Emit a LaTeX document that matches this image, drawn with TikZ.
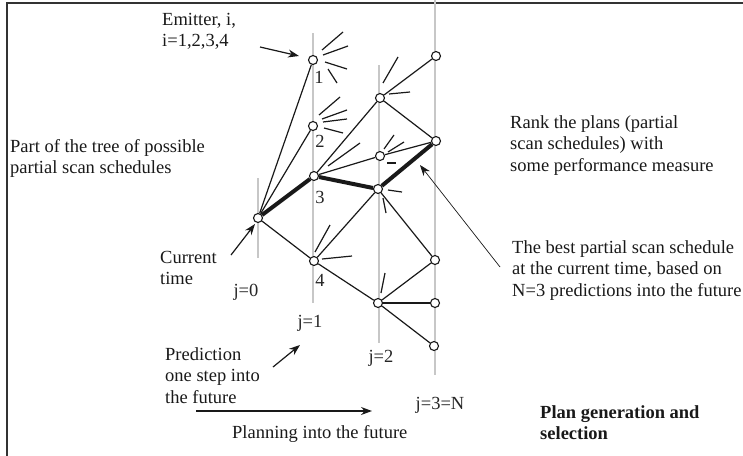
\documentclass[tikz,border=0pt]{standalone}
\usepackage{fontspec}
\setmainfont{Liberation Serif}
\usetikzlibrary{arrows.meta}
\begin{document}
\begin{tikzpicture}[x=1pt,y=-1pt,
  dot/.style={circle,draw=black!90,line width=1.1pt,fill=white,inner sep=0pt,minimum size=9pt},
  conn/.style={line width=1.2pt,black!90},
  best/.style={line width=4pt,black!90},
  stub/.style={line width=1.2pt,black!90},
  vline/.style={draw=black!22,line width=1.5pt},
  lbl/.style={font=\fontsize{18.5}{21.5}\selectfont,align=left,anchor=base west,inner sep=0pt,text=black!90},
  num/.style={font=\fontsize{18.5}{21.5}\selectfont,inner sep=0pt,text=black!85},
  arr/.style={line width=1.2pt,black!90,-{Stealth[length=11pt,width=8pt]}},
  frame/.style={line width=2pt,black!80},
]
\useasboundingbox (0,0) rectangle (743,455);
\draw[frame] (7,460) -- (7,3) -- (750,3);

% time lines
\draw[vline] (258,178) -- (258,258);
\draw[vline] (313,33) -- (313,303);
\draw[vline] (379,65) -- (379,343);
\draw[vline] (435,0) -- (435,375);

% nodes
\node[dot] (r) at (258,218) {};
\node[dot] (a1) at (313,60) {};
\node[dot] (a2) at (313,126) {};
\node[dot] (a3) at (314,176) {};
\node[dot] (a4) at (314,261) {};
\node[dot] (b1) at (380,98) {};
\node[dot] (b2) at (380,156) {};
\node[dot] (b3) at (378,189) {};
\node[dot] (b4) at (378,303) {};
\node[dot] (c1) at (436,56) {};
\node[dot] (c2) at (436,141) {};
\node[dot] (c3) at (435,260) {};
\node[dot] (c4) at (435,303) {};
\node[dot] (c5) at (434,346) {};

% edges
\draw[conn] (r) -- (a1);
\draw[conn] (r) -- (a2);
\draw[best] (r) -- (a3);
\draw[conn] (r) -- (a4);
\draw[conn] (a3) -- (b1);
\draw[conn] (a3) -- (b2);
\draw[best] (a3) -- (b3);
\draw[conn] (a4) -- (b3);
\draw[conn] (a4) -- (b4);
\draw[conn] (b1) -- (c1);
\draw[conn] (b1) -- (c2);
\draw[conn] (b2) -- (c2);
\draw[best] (b3) -- (c2);
\draw[conn] (b3) -- (c3);
\draw[conn] (b4) -- (c3);
\draw[conn] (b4) -- (c4);
\draw[conn] (b4) -- (c5);

% stubs (unexplored branches)
\draw[stub] ([shift={(9,-10)}]a1.center) -- ([shift={(30,-28)}]a1.center);
\draw[stub] ([shift={(10,-5)}]a1.center) -- ([shift={(35,-14)}]a1.center);
\draw[stub] ([shift={(12,2)}]a1.center) -- ([shift={(34,9)}]a1.center);
\draw[stub] ([shift={(15,9)}]a1.center) -- ([shift={(24,23)}]a1.center);
\draw[stub] ([shift={(6,-11)}]a2.center) -- ([shift={(27,-29)}]a2.center);
\draw[stub] ([shift={(9,-7)}]a2.center) -- ([shift={(34,-16)}]a2.center);
\draw[stub] ([shift={(10,-4)}]a2.center) -- ([shift={(34,-7)}]a2.center);
\draw[stub] ([shift={(11,2)}]a2.center) -- ([shift={(30,7)}]a2.center);
\draw[stub] ([shift={(14,-10)}]a3.center) -- ([shift={(46,-33)}]a3.center);
\draw[stub] ([shift={(1,-9)}]a4.center) -- ([shift={(16,-36)}]a4.center);
\draw[stub] ([shift={(8,-2)}]a4.center) -- ([shift={(38,-5)}]a4.center);
\draw[stub] ([shift={(3,-15)}]b1.center) -- ([shift={(18,-41)}]b1.center);
\draw[stub] ([shift={(9,-4)}]b1.center) -- ([shift={(30,-6)}]b1.center);
\draw[stub] ([shift={(4,-7)}]b2.center) -- ([shift={(14,-21)}]b2.center);
\draw[stub] ([shift={(8,-4)}]b2.center) -- ([shift={(24,-14)}]b2.center);
\draw[stub] ([shift={(7,7)}]b2.center) -- ([shift={(16,7)}]b2.center);
\draw[stub] ([shift={(10,1)}]b3.center) -- ([shift={(24,3)}]b3.center);
\draw[stub] ([shift={(5,9)}]b3.center) -- ([shift={(8,24)}]b3.center);
\draw[stub] ([shift={(3,-10)}]b4.center) -- ([shift={(7,-30)}]b4.center);

% emitter numbers
\node[num] (n1) at (319,77) {1};
\node[num] (n2) at (320,141) {2};
\node[num] (n3) at (320,197) {3};
\node[num] (n4) at (320,280) {4};

% step labels
\node[num] (j0) at (246,292) {j=0};
\node[num] (j1) at (310,323) {j=1};
\node[num] (j2) at (381,358) {j=2};
\node[num] (j3) at (440,405) {j=3=N};

% texts (anchor = baseline of last line)
\node[lbl] (emit) at (162,46.5) {Emitter, i,\\i=1,2,3,4};
\node[lbl] (tree) at (10,173.5) {Part of the tree of possible\\partial scan schedules};
\node[lbl] (cur) at (160,284.5) {Current\\time};
\node[lbl] (pred) at (165,403) {Prediction\\one step into\\the future};
\node[lbl] (plan) at (232,438) {Planning into the future};
\node[lbl] (rank) at (510,171) {Rank the plans (partial\\scan schedules) with\\some performance measure};
\node[lbl] (bestt) at (512,296) {The best partial scan schedule\\at the current time, based on\\N=3 predictions into the future};
\node[lbl,font=\fontsize{18.5}{21.5}\selectfont\bfseries] (pg) at (540,439.5) {Plan generation and\\selection};

% arrows
\coordinate (emitA) at (260,47);
\coordinate (emitB) at (299,56);
\draw[arr] (emitA) -- (emitB);
\coordinate (curA) at (231,255);
\coordinate (curB) at (255,224);
\draw[arr] (curA) -- (curB);
\coordinate (predA) at (273,367);
\coordinate (predB) at (300,345);
\draw[arr] (predA) -- (predB);
\coordinate (planA) at (196,411);
\coordinate (planB) at (372,411);
\draw[arr] (planA) -- (planB);
\coordinate (bestA) at (500,267);
\coordinate (bestB) at (420,165);
\draw[line width=0.7pt,black!90,-{Stealth[length=11pt,width=8pt]}] (bestA) -- (bestB);
\end{tikzpicture}
\end{document}
